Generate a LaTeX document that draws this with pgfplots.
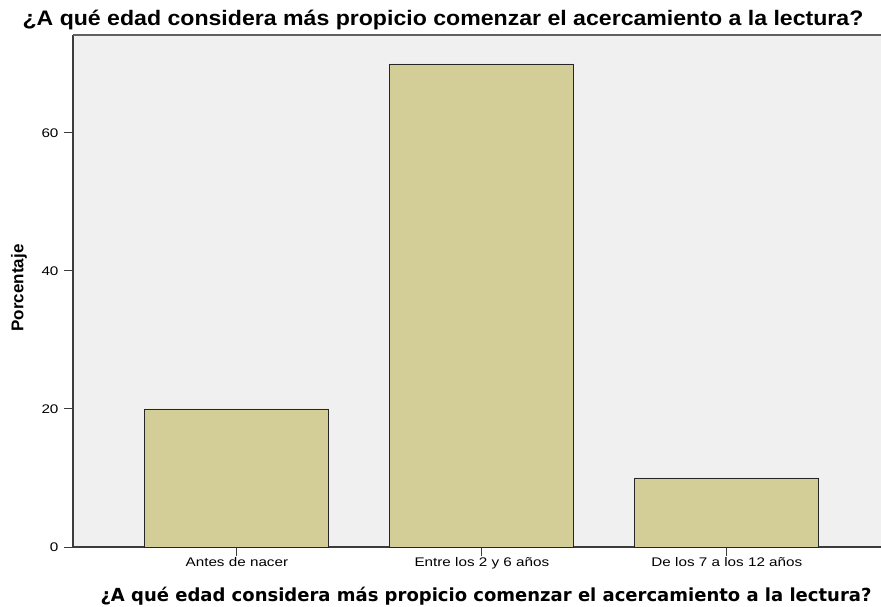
\documentclass[border=0pt]{standalone}
\usepackage{pgfplots}
\pgfplotsset{compat=1.18}
\usepackage{fontspec}
\setmainfont{Liberation Sans}
\newfontfamily\xlabfont{DejaVu Sans}
\definecolor{bgc}{HTML}{F0F0F0}
\definecolor{barc}{HTML}{D3CE97}
\definecolor{axc}{HTML}{3C3C3C}
\begin{document}
\begin{tikzpicture}[x=1pt,y=1pt]
\useasboundingbox (0,0) rectangle (881,606);
\begin{axis}[
  at={(73pt,59pt)}, anchor=south west,
  scale only axis, width=808pt, height=512pt,
  xmin=-0.669, xmax=2.629, ymin=0, ymax=74.2,
  axis background/.style={fill=bgc},
  axis x line*=bottom, axis y line*=left,
  axis line style={axc, line width=1.1pt},
  x axis line style={-}, y axis line style={-},
  xtick={0,1,2},
  xticklabels={Antes de nacer,Entre los 2 y 6 años,De los 7 a los 12 años},
  ytick={0,20,40,60},
  tick style={axc, line width=1pt},
  xtick pos=bottom, ytick pos=left,
  tick align=outside, major tick length=9pt,
  ticklabel style={font=\fontsize{12.5}{14}\selectfont, text=black, xscale=1.22},
  /pgf/number format/assume math mode=true,
  xticklabel style={yshift=2pt},
  yticklabel style={xshift=-1pt},
  clip=false,
]
\addplot[ybar, bar width=0.751, fill=barc, draw=black!85, line width=0.9pt] coordinates {(0,20) (1,70) (2,10)};
\draw[gray!75!black, line width=1.5pt] (rel axis cs:0,1) -- (rel axis cs:1,1);
\end{axis}
\node[rotate=90, anchor=center, font=\bfseries\fontsize{17}{19}\selectfont] at (19,318) {Porcentaje};
\node[anchor=base, font=\bfseries\fontsize{21}{24}\selectfont, xscale=1.1] at (443,580) {¿A qué edad considera más propicio comenzar el acercamiento a la lectura?};
\node[anchor=base, font=\xlabfont\bfseries\fontsize{18}{21}\selectfont] at (486,5) {¿A qué edad considera más propicio comenzar el acercamiento a la lectura?};
\end{tikzpicture}
\end{document}
